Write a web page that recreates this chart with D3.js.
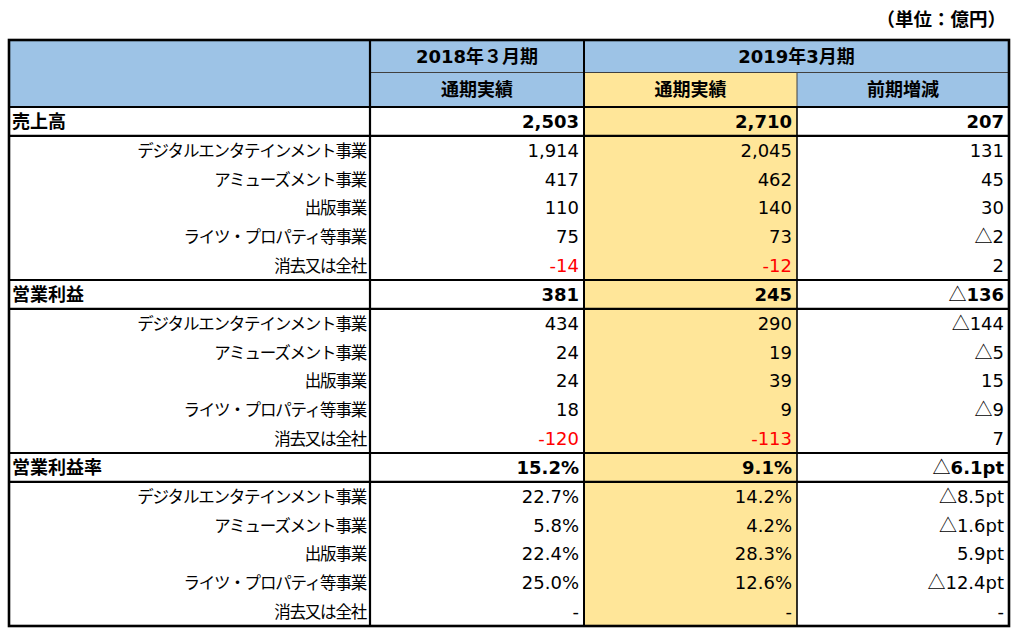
<!DOCTYPE html>
<html><head><meta charset="utf-8">
<script src="https://cdn.jsdelivr.net/npm/d3@7"></script>
<style>
body{margin:0;background:#fff;}
svg{display:block;}
</style></head>
<body>
<svg id="c" width="1015" height="633"></svg>
<script>
// ---- data ----
const unitLabel = "（単位：億円）";
const periodHeaders = ["2018年３月期", "2019年3月期"];
const subHeaders = ["通期実績", "通期実績", "前期増減"];
const sectionNames = ["売上高", "営業利益", "営業利益率"];
const segments = ["デジタルエンタテインメント事業", "アミューズメント事業", "出版事業", "ライツ・プロパティ等事業", "消去又は全社"];

const sales2018 = [2503, 1914, 417, 110, 75, -14];
const sales2019 = [2710, 2045, 462, 140, 73, -12];
const salesDiff = [207, 131, 45, 30, -2, 2];
const op2018 = [381, 434, 24, 24, 18, -120];
const op2019 = [245, 290, 19, 39, 9, -113];
const opDiff = [-136, -144, -5, 15, -9, 7];
const margin2018 = [15.2, 22.7, 5.8, 22.4, 25.0, null];
const margin2019 = [9.1, 14.2, 4.2, 28.3, 12.6, null];
const marginDiff = [-6.1, -8.5, -1.6, 5.9, -12.4, null];

// ---- layout ----
const svg = d3.select("#c");
const X0 = 9, X1 = 370, X2 = 584, X3 = 797, X4 = 1009;
const Y0 = 40, YH = 72.5, YB = 107, YE = 626;
const nRows = 18;
const y = d3.scaleLinear().domain([0, nRows]).range([YB, YE]);
const colEdges = [X0, X1, X2, X3, X4];

const BLUE = "#9DC3E6", YEL = "#FFE699", RED = "#FF0000";
const NUMF = "'DejaVu Sans', Verdana, 'Noto Sans CJK JP', sans-serif";
const JPF = "'Noto Sans CJK JP', 'Noto Sans', sans-serif";

// build rows
const sections = [
  {name: sectionNames[0], vals: [sales2018, sales2019, salesDiff], type: "amt"},
  {name: sectionNames[1], vals: [op2018, op2019, opDiff], type: "amt"},
  {name: sectionNames[2], vals: [margin2018, margin2019, marginDiff], type: "pct"}
];
const rows = [];
sections.forEach(s => {
  for (let i = 0; i < 6; i++) {
    rows.push({label: i === 0 ? s.name : segments[i - 1], bold: i === 0, type: s.type,
      v: s.vals.map(a => a[i])});
  }
});

const loc = d3.formatLocale({decimal: ".", thousands: ",", grouping: [3], currency: ["", ""], minus: "-"});
const fmtAmt = loc.format(",");
function cellText(v, col, type) {
  if (v === null) return {pre: "", txt: "-", red: false};
  if (type === "amt") {
    if (col < 2) return {pre: "", txt: fmtAmt(v), red: v < 0};
    return v < 0 ? {pre: "△", txt: fmtAmt(-v), red: false} : {pre: "", txt: fmtAmt(v), red: false};
  } else {
    if (col < 2) return {pre: "", txt: v.toFixed(1) + "%", red: false};
    return v < 0 ? {pre: "△", txt: (-v).toFixed(1) + "pt", red: false} : {pre: "", txt: v.toFixed(1) + "pt", red: false};
  }
}

// backgrounds
svg.append("rect").attr("x", X0).attr("y", Y0).attr("width", X4 - X0).attr("height", YB - Y0).attr("fill", BLUE);
svg.append("rect").attr("x", X2).attr("y", YH).attr("width", X3 - X2).attr("height", YE - YH).attr("fill", YEL);

// unit label
svg.append("text").attr("x", 1006).attr("y", 26).attr("text-anchor", "end")
  .attr("font-family", JPF).attr("font-weight", "bold").attr("font-size", 18.5).attr("fill", "#000")
  .text(unitLabel);

// header texts
const hdr = svg.append("g").attr("font-weight", "bold").attr("font-size", 18).attr("fill", "#000").attr("text-anchor", "middle");
hdr.append("text").attr("x", (X1 + X2) / 2).attr("y", (Y0 + YH) / 2 + 6.5).attr("font-family", NUMF).text(periodHeaders[0]);
hdr.append("text").attr("x", (X2 + X4) / 2).attr("y", (Y0 + YH) / 2 + 6.5).attr("font-family", NUMF).text(periodHeaders[1]);
subHeaders.forEach((t, i) => {
  hdr.append("text").attr("x", (colEdges[i + 1] + colEdges[i + 2]) / 2).attr("y", (YH + YB) / 2 + 6.5)
    .attr("font-family", JPF).text(t);
});

// body
const body = svg.append("g");
rows.forEach((r, i) => {
  const cy = (y(i) + y(i + 1)) / 2 + 6.5;
  if (r.bold) {
    body.append("text").attr("x", 12).attr("y", cy).attr("font-family", JPF).attr("font-weight", "bold")
      .attr("font-size", 18).text(r.label);
  } else {
    body.append("text").attr("x", X1 - 4).attr("y", cy).attr("text-anchor", "end").attr("font-family", JPF)
      .attr("font-size", 16.5).attr("letter-spacing", "-1.2px").text(r.label);
  }
  r.v.forEach((v, c) => {
    const ct = cellText(v, c, r.type);
    const t = body.append("text").attr("x", colEdges[c + 2] - 5).attr("y", cy).attr("text-anchor", "end")
      .attr("font-family", NUMF).attr("font-size", 18).attr("fill", ct.red ? RED : "#000");
    if (ct.pre) t.append("tspan").attr("font-weight", "normal").attr("font-family", "'Noto Sans CJK JP', sans-serif").text(ct.pre);
    t.append("tspan").attr("font-weight", r.bold ? "bold" : "normal").text(ct.txt);
  });
});

// grid lines
const lines = svg.append("g").attr("stroke", "#000");
lines.append("line").attr("x1", X1).attr("x2", X4).attr("y1", YH).attr("y2", YH).attr("stroke", "#404040").attr("stroke-width", 1);
lines.append("line").attr("x1", X3).attr("x2", X3).attr("y1", YH).attr("y2", YB).attr("stroke", "#404040").attr("stroke-width", 1);
[0, 1, 6, 7, 12, 13].forEach(k => {
  lines.append("line").attr("x1", X0).attr("x2", X4).attr("y1", y(k)).attr("y2", y(k)).attr("stroke-width", 2.2);
});
lines.append("line").attr("x1", X1).attr("x2", X1).attr("y1", Y0).attr("y2", YE).attr("stroke-width", 2.2);
lines.append("line").attr("x1", X2).attr("x2", X2).attr("y1", Y0).attr("y2", YE).attr("stroke-width", 2);
lines.append("line").attr("x1", X3).attr("x2", X3).attr("y1", YB).attr("y2", YE).attr("stroke-width", 1.6);
lines.append("rect").attr("x", X0).attr("y", Y0).attr("width", X4 - X0).attr("height", YE - Y0)
  .attr("fill", "none").attr("stroke-width", 2.6);
</script>
</body></html>
